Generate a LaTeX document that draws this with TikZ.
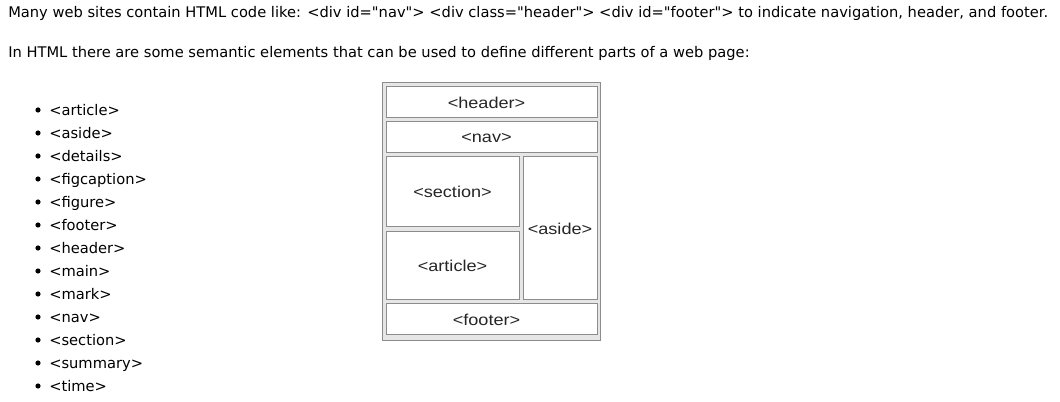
\documentclass[tikz,border=0pt]{standalone}
\usepackage{fontspec}
\usepackage{tikz}
\newfontfamily\pagefont{DejaVu Sans}
\newfontfamily\boxfont[FakeStretch=1.15]{Liberation Sans}
\definecolor{edgegray}{HTML}{8C8C8C}
\definecolor{backgray}{HTML}{E6E6E6}

\begin{document}
\begin{tikzpicture}[x=0.75pt, y=-0.75pt]
        % Styles for the page text and the layout boxes
        \tikzset{
            line/.style={anchor=base west, inner sep=0pt, font=\pagefont\fontsize{11pt}{13pt}\selectfont},
            part/.style={draw=edgegray, fill=white, line width=0.75pt, inner sep=0pt},
            tag/.style={font=\boxfont\fontsize{11.8pt}{14pt}\selectfont, text=black!85},
        }
        \useasboundingbox (0, 0) rectangle (1060, 402);

        % Intro text
        \node[line] (intro) at (8, 18) {Many web sites contain HTML code like: <div id="nav"> <div class="header"> <div id="footer"> to indicate navigation, header, and footer.};
        \node[line] (lead) at (8, 58) {In HTML there are some semantic elements that can be used to define different parts of a web page:};

        % List of semantic elements
        \foreach \item [count=\i] in {article, aside, details, figcaption, figure, footer, header, main, mark, nav, section, summary, time} {
            \pgfmathsetmacro{\ypos}{86 + 23*\i}
            \fill (38, \ypos+1) circle (2.6);
            \node[line] (item\i) at (49, \ypos+7) {<\item>};
        }

        % Page layout (sizes in px)
        \node[draw=edgegray, fill=backgray, line width=0.75pt, inner sep=0pt,
              minimum width=218*0.75pt, minimum height=258*0.75pt] (page) at (491.5, 211.5) {};

        \node[part, minimum width=211*0.75pt, minimum height=31*0.75pt,
              label={[tag, xshift=-3.75pt]center:<header>}] (header) at (491.5, 102.5) {};
        \node[part, minimum width=211*0.75pt, minimum height=31*0.75pt,
              label={[tag, xshift=-3.75pt]center:<nav>}] (nav) at (491.5, 137.5) {};
        \node[part, minimum width=133*0.75pt, minimum height=70*0.75pt,
              label={[tag]center:<section>}] (section) at (452.5, 192) {};
        \node[part, minimum width=133*0.75pt, minimum height=68*0.75pt,
              label={[tag]center:<article>}] (article) at (452.5, 266) {};
        \node[part, minimum width=74*0.75pt, minimum height=143*0.75pt,
              label={[tag]center:<aside>}] (aside) at (560, 228.5) {};
        \node[part, minimum width=211*0.75pt, minimum height=31*0.75pt,
              label={[tag, xshift=-3.75pt]center:<footer>}] (footer) at (491.5, 319.5) {};
\end{tikzpicture}
\end{document}
